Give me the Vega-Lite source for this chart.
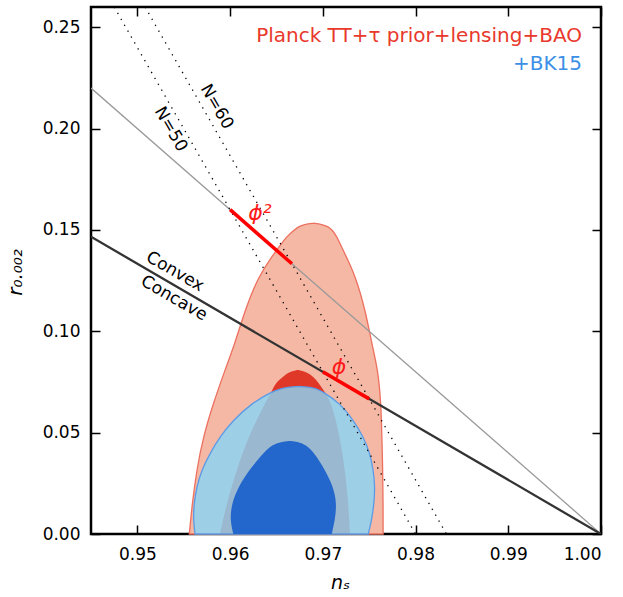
{
  "$schema": "https://vega.github.io/schema/vega-lite/v6.json",
  "width": 510,
  "height": 527,
  "autosize": {"type": "none"},
  "padding": {"left": 91, "top": 7, "right": 22, "bottom": 63},
  "background": "white",
  "config": {
    "view": {"stroke": "black", "strokeWidth": 2.5},
    "axis": {
      "domain": false, "grid": false, "tickColor": "black", "tickWidth": 1.5, "tickSize": -9,
      "labelFont": "DejaVu Sans", "labelFontSize": 17, "labelColor": "black",
      "titleFont": "DejaVu Sans", "titleColor": "black", "titleFontWeight": "normal"
    }
  },
  "datasets": {
    "planck95": [
      {"r": 0, "lo": 0.9556, "hi": 0.9765},
      {"r": 0.0151, "lo": 0.95592, "hi": 0.9765},
      {"r": 0.0316, "lo": 0.9564, "hi": 0.97646},
      {"r": 0.048, "lo": 0.95711, "hi": 0.97637},
      {"r": 0.0645, "lo": 0.95819, "hi": 0.97627},
      {"r": 0.0809, "lo": 0.95945, "hi": 0.97595},
      {"r": 0.0941, "lo": 0.96053, "hi": 0.97527},
      {"r": 0.1105, "lo": 0.96161, "hi": 0.97458},
      {"r": 0.1269, "lo": 0.96304, "hi": 0.97354},
      {"r": 0.1368, "lo": 0.96449, "hi": 0.97253},
      {"r": 0.1434, "lo": 0.96557, "hi": 0.97185},
      {"r": 0.1467, "lo": 0.9661, "hi": 0.9715},
      {"r": 0.15, "lo": 0.96693, "hi": 0.97102},
      {"r": 0.1516, "lo": 0.96736, "hi": 0.97059},
      {"r": 0.1528, "lo": 0.9680, "hi": 0.9699},
      {"r": 0.1533, "lo": 0.9690, "hi": 0.9690}
    ],
    "planck68": [
      {"r": 0, "lo": 0.95891, "hi": 0.97293},
      {"r": 0.0151, "lo": 0.95963, "hi": 0.97275},
      {"r": 0.0316, "lo": 0.96071, "hi": 0.97239},
      {"r": 0.048, "lo": 0.96196, "hi": 0.97185},
      {"r": 0.0645, "lo": 0.96376, "hi": 0.97096},
      {"r": 0.0702, "lo": 0.9645, "hi": 0.9702},
      {"r": 0.0743, "lo": 0.96484, "hi": 0.9696},
      {"r": 0.0776, "lo": 0.96574, "hi": 0.96897},
      {"r": 0.0797, "lo": 0.9663, "hi": 0.9683},
      {"r": 0.0806, "lo": 0.9670, "hi": 0.9676},
      {"r": 0.0809, "lo": 0.9673, "hi": 0.9673}
    ],
    "bk95": [
      {"r": 0, "lo": 0.95622, "hi": 0.9749},
      {"r": 0.0069, "lo": 0.95603, "hi": 0.97527},
      {"r": 0.0151, "lo": 0.95611, "hi": 0.97552},
      {"r": 0.0233, "lo": 0.9564, "hi": 0.97563},
      {"r": 0.0316, "lo": 0.95694, "hi": 0.97544},
      {"r": 0.0398, "lo": 0.95783, "hi": 0.97509},
      {"r": 0.048, "lo": 0.95891, "hi": 0.97437},
      {"r": 0.0562, "lo": 0.96035, "hi": 0.97329},
      {"r": 0.0645, "lo": 0.96233, "hi": 0.97185},
      {"r": 0.0702, "lo": 0.96449, "hi": 0.97},
      {"r": 0.0718, "lo": 0.9655, "hi": 0.9693},
      {"r": 0.0725, "lo": 0.9664, "hi": 0.9684},
      {"r": 0.0728, "lo": 0.9674, "hi": 0.9674}
    ],
    "bk68": [
      {"r": 0, "lo": 0.96035, "hi": 0.97096},
      {"r": 0.0069, "lo": 0.95999, "hi": 0.97131},
      {"r": 0.0151, "lo": 0.96017, "hi": 0.9715},
      {"r": 0.0233, "lo": 0.9609, "hi": 0.97113},
      {"r": 0.0316, "lo": 0.96204, "hi": 0.97024},
      {"r": 0.0398, "lo": 0.96358, "hi": 0.9691},
      {"r": 0.0435, "lo": 0.9644, "hi": 0.9683},
      {"r": 0.045, "lo": 0.9652, "hi": 0.9676},
      {"r": 0.0457, "lo": 0.966, "hi": 0.9669},
      {"r": 0.0459, "lo": 0.96645, "hi": 0.96645}
    ],
    "grayline": [{"ns": 0.945, "r": 0.22}, {"ns": 1.0, "r": 0}],
    "blackline": [{"ns": 0.945, "r": 0.146667}, {"ns": 1.0, "r": 0}],
    "nlines": [
      {"N": "50", "ns": 0.9475, "r": 0.26}, {"N": "50", "ns": 0.98, "r": 0},
      {"N": "60", "ns": 0.950833, "r": 0.26}, {"N": "60", "ns": 0.983333, "r": 0}
    ],
    "redseg": [
      {"m": "phi2", "ns": 0.96, "r": 0.16}, {"m": "phi2", "ns": 0.966667, "r": 0.133333},
      {"m": "phi", "ns": 0.97, "r": 0.08}, {"m": "phi", "ns": 0.975, "r": 0.066667}
    ],
    "nlabels": [
      {"ns": 0.9536, "r": 0.1997, "t": "N=50"},
      {"ns": 0.95856, "r": 0.2108, "t": "N=60"}
    ],
    "cclabels": [
      {"ns": 0.95406, "r": 0.1294, "t": "Convex"},
      {"ns": 0.95395, "r": 0.1163, "t": "Concave"}
    ],
    "philabels": [
      {"ns": 0.96322, "r": 0.1585, "t": "ϕ²"},
      {"ns": 0.97174, "r": 0.0822, "t": "ϕ"}
    ],
    "legend1": [{"ns": 0.99795, "r": 0.2429, "t": "Planck TT+τ prior+lensing+BAO"}],
    "legend2": [{"ns": 0.99795, "r": 0.2289, "t": "+BK15"}]
  },
  "resolve": {"axis": {"x": "independent", "y": "independent"}},
  "layer": [
    {
      "data": {"name": "planck95"},
      "mark": {"type": "area", "orient": "horizontal", "interpolate": "basis", "fill": "#f5b8a5", "stroke": "#ec705f", "strokeWidth": 1.3},
      "encoding": {
        "y": {"field": "r", "type": "quantitative", "scale": {"domain": [0, 0.26], "nice": false, "zero": false},
              "axis": {"orient": "left", "values": [0, 0.05, 0.1, 0.15, 0.2, 0.25], "format": ".2f", "labelPadding": 20,
                       "title": "r₀.₀₀₂", "titleFontSize": 20, "titleFontStyle": "italic", "titleX": -76, "titleY": 265, "titleAngle": -90, "titleBaseline": "middle", "titleAlign": "center"}},
        "x": {"field": "lo", "type": "quantitative", "scale": {"domain": [0.945, 1.0], "nice": false, "zero": false},
              "axis": {"orient": "bottom", "values": [0.95, 0.96, 0.97, 0.98, 0.99, 1.0], "format": ".2f", "labelPadding": 21,
                       "title": "nₛ", "titleFontSize": 19, "titleFontStyle": "italic", "titleX": 249, "titleY": 48, "titleBaseline": "middle", "titleAlign": "center"}},
        "x2": {"field": "hi"}
      }
    },
    {
      "data": {"name": "planck68"},
      "mark": {"type": "area", "orient": "horizontal", "interpolate": "basis", "fill": "#e03828"},
      "encoding": {
        "y": {"field": "r", "type": "quantitative", "axis": null},
        "x": {"field": "lo", "type": "quantitative", "axis": null},
        "x2": {"field": "hi"}
      }
    },
    {
      "data": {"name": "bk95"},
      "mark": {"type": "area", "orient": "horizontal", "interpolate": "basis", "fill": "#8ad4f4", "fillOpacity": 0.82, "stroke": "#5b9be6", "strokeWidth": 1.3},
      "encoding": {
        "y": {"field": "r", "type": "quantitative", "axis": null},
        "x": {"field": "lo", "type": "quantitative", "axis": null},
        "x2": {"field": "hi"}
      }
    },
    {
      "data": {"name": "bk68"},
      "mark": {"type": "area", "orient": "horizontal", "interpolate": "basis", "fill": "#2366cc"},
      "encoding": {
        "y": {"field": "r", "type": "quantitative", "axis": null},
        "x": {"field": "lo", "type": "quantitative", "axis": null},
        "x2": {"field": "hi"}
      }
    },
    {
      "data": {"name": "grayline"},
      "mark": {"type": "line", "color": "#999999", "strokeWidth": 1.3, "clip": true},
      "encoding": {
        "x": {"field": "ns", "type": "quantitative", "axis": {"orient": "top", "values": [0.95, 0.96, 0.97, 0.98, 0.99, 1.0], "labels": false, "title": null}},
        "y": {"field": "r", "type": "quantitative", "axis": {"orient": "right", "values": [0, 0.05, 0.1, 0.15, 0.2, 0.25], "labels": false, "title": null}}
      }
    },
    {
      "data": {"name": "blackline"},
      "mark": {"type": "line", "color": "#333333", "strokeWidth": 2.3, "clip": true},
      "encoding": {
        "x": {"field": "ns", "type": "quantitative", "axis": null},
        "y": {"field": "r", "type": "quantitative", "axis": null}
      }
    },
    {
      "data": {"name": "nlines"},
      "mark": {"type": "line", "color": "black", "strokeWidth": 1.3, "strokeDash": [1.3, 5.5], "clip": true},
      "encoding": {
        "x": {"field": "ns", "type": "quantitative", "axis": null},
        "y": {"field": "r", "type": "quantitative", "axis": null},
        "detail": {"field": "N"}
      }
    },
    {
      "data": {"name": "redseg"},
      "mark": {"type": "line", "color": "#ff0000", "strokeWidth": 3.5},
      "encoding": {
        "x": {"field": "ns", "type": "quantitative", "axis": null},
        "y": {"field": "r", "type": "quantitative", "axis": null},
        "detail": {"field": "m"}
      }
    },
    {
      "data": {"name": "nlabels"},
      "mark": {"type": "text", "font": "DejaVu Sans", "fontSize": 17, "angle": 60, "color": "black", "align": "center", "baseline": "middle"},
      "encoding": {
        "x": {"field": "ns", "type": "quantitative", "axis": null},
        "y": {"field": "r", "type": "quantitative", "axis": null},
        "text": {"field": "t"}
      }
    },
    {
      "data": {"name": "cclabels"},
      "mark": {"type": "text", "font": "DejaVu Sans", "fontSize": 17, "angle": 30, "color": "black", "align": "center", "baseline": "middle"},
      "encoding": {
        "x": {"field": "ns", "type": "quantitative", "axis": null},
        "y": {"field": "r", "type": "quantitative", "axis": null},
        "text": {"field": "t"}
      }
    },
    {
      "data": {"name": "philabels"},
      "mark": {"type": "text", "font": "DejaVu Sans", "fontSize": 22, "fontStyle": "italic", "color": "#ff1a1a", "align": "center", "baseline": "middle"},
      "encoding": {
        "x": {"field": "ns", "type": "quantitative", "axis": null},
        "y": {"field": "r", "type": "quantitative", "axis": null},
        "text": {"field": "t"}
      }
    },
    {
      "data": {"name": "legend1"},
      "mark": {"type": "text", "font": "DejaVu Sans", "fontSize": 20, "color": "#e8392c", "align": "right", "baseline": "alphabetic"},
      "encoding": {
        "x": {"field": "ns", "type": "quantitative", "axis": null},
        "y": {"field": "r", "type": "quantitative", "axis": null},
        "text": {"field": "t"}
      }
    },
    {
      "data": {"name": "legend2"},
      "mark": {"type": "text", "font": "DejaVu Sans", "fontSize": 20, "color": "#3b8fe6", "align": "right", "baseline": "alphabetic"},
      "encoding": {
        "x": {"field": "ns", "type": "quantitative", "axis": null},
        "y": {"field": "r", "type": "quantitative", "axis": null},
        "text": {"field": "t"}
      }
    }
  ]
}
